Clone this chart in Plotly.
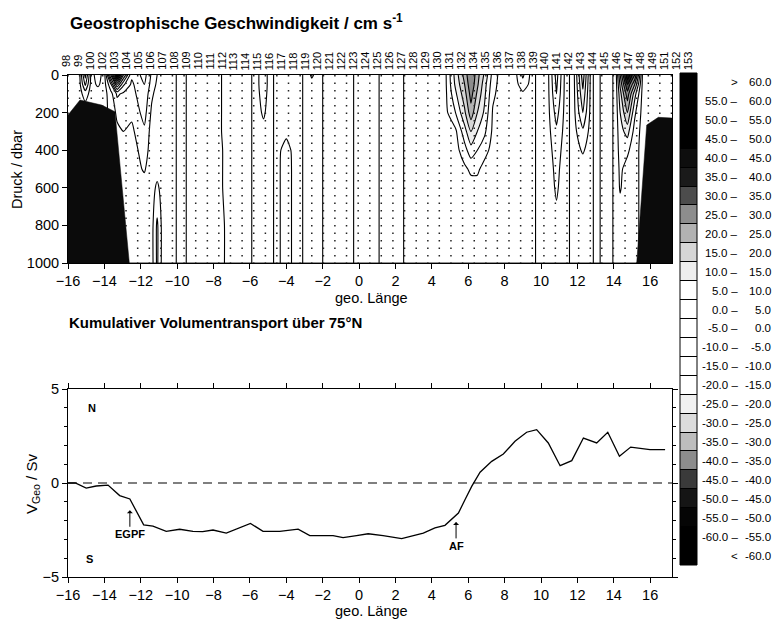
import numpy as np
import plotly.graph_objects as go

W, H = 775, 623
FONT = "Liberation Sans, Arial, Helvetica, sans-serif"

# ---------------------------------------------------------------- data
stations = [98, 99, 100, 102, 103, 104, 105, 106, 107, 108, 109, 110, 111, 112,
            113, 114, 115, 116, 117, 118, 119, 120, 121, 122, 123, 124, 125, 126,
            127, 128, 129, 130, 131, 132, 134, 135, 136, 137, 138, 139, 140, 141,
            142, 143, 144, 145, 146, 147, 148, 149, 151, 152, 153]

station_lon = [-16.0, -15.36, -14.72, -14.09, -13.45, -12.81, -12.17, -11.53, -10.9,
               -10.26, -9.62, -8.98, -8.34, -7.71, -7.07, -6.43, -5.79, -5.15, -4.52,
               -3.88, -3.24, -2.6, -1.96, -1.33, -0.69, -0.05, 0.59, 1.22, 1.86, 2.5,
               3.14, 3.78, 4.41, 5.05, 5.69, 6.33, 6.97, 7.6, 8.24, 8.88, 9.52, 10.16,
               10.79, 11.43, 12.07, 12.71, 13.34, 13.98, 14.62, 15.26, 15.9, 16.53, 17.17]

# pressure levels (dbar) of the velocity profiles
depth_levels = [0, 50, 100, 200, 300, 400, 500, 600, 800, 1000]

# longitude of each velocity profile
grid_lon = [-16.0, -15.4, -15.05, -14.7, -14.35, -14.0, -13.65, -13.3, -12.95, -12.5,
            -11.8, -11.4, -11.1, -10.8, -10.3, -9.8, -9.2, -8.4, -7.8, -7.2,
            -6.6, -6.1, -5.7, -5.25, -4.9, -4.5, -4.0, -3.5, -3.3, -2.9,
            -2.6, -2.2, -1.8, -1.0, -0.5, -0.1, 0.5, 0.9, 1.3, 1.9,
            2.3, 2.6, 3.5, 4.7, 5.3, 5.8, 6.15, 6.5, 6.9, 7.35,
            7.8, 8.5, 9.0, 9.5, 9.9, 10.35, 10.85, 11.35, 11.78, 12.3,
            12.75, 13.0, 13.5, 13.8, 14.1, 14.35, 14.75, 15.15, 15.6, 16.4, 17.2]

# geostrophic velocity (cm/s), one profile per longitude, values at depth_levels
velocity_profiles = [
    [3, 3, 2, 2, 2, 2, 2, 2, 2, 2],
    [3, 3, 2, 2, 2, 2, 2, 2, 2, 2],
    [-17, -11, -2, 3, 2, 2, 2, 2, 2, 2],
    [3, 3, 2, 2, 2, 2, 2, 2, 2, 2],
    [8, 6, 2, 2, 2, 2, 2, 2, 2, 2],
    [2, 2, 2, 2, 2, 2, 2, 2, 2, 2],
    [-25, -9, -3, -2, -2, -2, -2, -2, -2, -2],
    [-55, -30, -11, -6, -4, -3, -3, -3, -3, -3],
    [-30, -16, -9, -7, -5, -4, -3, -3, -3, -3],
    [-11, -9, -8, -6, -4, -3, -3, -3, -3, -3],
    [-17, -15, -14, -12, -9, -7, -5.5, -3, -2, -2],
    [-9, -8, -6, -4, -3, -3, -2, -2, -2, -2],
    [-5, -4, -3, -2, -2, -2, -2, 1, 6, 6],
    [-3, -3, -2, -2, -2, -2, -2, -2, -2, -2],
    [-2, -2, -2, -2, -2, -2, -2, -2, -2, -2],
    [2, 2, 2, 2, 2, 2, 2, 2, 2, 2],
    [-2, -2, -2, -2, -2, -2, -2, -2, -2, -2],
    [-3, -3, -3, -3, -3, -3, -3, -3, -3, -3],
    [-2, -2, -2, -2, -2, -2, -2, -2, -2, -2],
    [3, 3, 3, 3, 3, 2, 2, 2, 1, 1],
    [3, 3, 3, 3, 3, 3, 3, 3, 3, 3],
    [2, 2, 2, 2, 2, 2, 2, 2, 2, 2],
    [-2, -2, -2, -2, -2, -2, -2, -2, -2, -2],
    [-9, -9, -8, -6, -3, -2, -2, -2, -2, -2],
    [-2, -2, -2, -2, -2, -2, -2, -2, -2, -2],
    [2, 2, 2, 2, 2, 2, 2, 2, 2, 2],
    [3, 3, 3, 3, 2, -3, -4, -4, -4, -4],
    [3, 3, 3, 3, 3, 3, 3, 3, 3, 3],
    [2, 2, 2, 2, 2, 2, 2, 2, 2, 2],
    [-2, -2, -2, -2, -2, -2, -2, -2, -2, -2],
    [-6, -3, -2, -2, -2, -2, -2, -2, -2, -2],
    [-2, -2, -2, -2, -2, -2, -2, -2, -2, -2],
    [2, 2, 2, 2, 2, 2, 2, 2, 2, 2],
    [3, 3, 3, 3, 3, 3, 3, 3, 3, 3],
    [2, 2, 2, 2, 2, 2, 2, 2, 2, 2],
    [-2, -2, -2, -2, -2, -2, -2, -2, -2, -2],
    [-3, -3, -3, -3, -3, -3, -3, -3, -3, -3],
    [-2, -2, -2, -2, -2, -2, -2, -2, -2, -2],
    [2, 2, 2, 2, 2, 2, 2, 2, 2, 2],
    [3, 3, 3, 3, 3, 3, 3, 3, 3, 3],
    [2, 2, 2, 2, 2, 2, 2, 2, 2, 2],
    [-2, -2, -2, -2, -2, -2, -2, -2, -2, -2],
    [-3, -3, -3, -3, -3, -3, -3, -3, -3, -3],
    [-2, -2, -2, -2, -2, -2, -2, -2, -2, -2],
    [12, 11, 9, 5, -1, -2, -2, -2, -2, -2],
    [22, 20, 18, 14, 8, 3, -1, -2, -2, -2],
    [30, 29, 27, 23, 15, 8, 1, -2, -2, -2],
    [22, 21, 19, 15, 10, 5, 1, -2, -2, -2],
    [14, 12, 11, 9, 6, 2, -2, -2, -2, -2],
    [3, 2, 1, -0.5, -1, -2, -2, -2, -2, -2],
    [-2, -2, -2, -2, -2, -2, -2, -2, -2, -2],
    [-3, -3, -3, -3, -3, -3, -3, -3, -3, -3],
    [6, 3, -1, -2, -2, -2, -2, -2, -2, -2],
    [-2, -2, -2, -2, -2, -2, -2, -2, -2, -2],
    [2, 2, 2, 2, 2, 2, 2, 2, 2, 2],
    [2, 2, 2, 2, 2, 2, 2, 2, 2, 2],
    [-12, -11, -10, -7, -4, -2, -1, -0.5, 1, 2],
    [2, 2, 2, 2, 2, 2, 2, 2, 2, 2],
    [-2, -2, -2, -2, -2, -2, -2, -2, -2, -2],
    [18, 16, 14, 10, 4, 0.5, -2, -2, -2, -2],
    [-2, -2, -2, -2, -2, -2, -2, -2, -2, -2],
    [2, 2, 2, 2, 2, 2, 2, 2, 2, 2],
    [-2, -2, -2, -2, -2, -2, -2, -2, -2, -2],
    [-2, -2, -2, -2, -2, -2, -2, -2, -2, -2],
    [2, 2, 2, 2, 2, 2, 2, 2, 2, 2],
    [20, 16, 13, 10, 8, 7, 6, 5.5, 2, 2],
    [45, 35, 28, 20, 12, 6, 3, 2, 2, 2],
    [30, 20, 12, 6, 3, 2, 2, 2, 2, 2],
    [-2, -2, -2, -2, -2, -2, -2, -2, -2, -2],
    [-2, -2, -2, -2, -2, -2, -2, -2, -2, -2],
    [-2, -2, -2, -2, -2, -2, -2, -2, -2, -2],
]

# sea floor along the section (shelf slopes at both ends)
bottom_lon = [-16.0, -15.34, -14.15, -13.42, -12.63, 15.26, 15.81, 16.45, 17.2]
bottom_depth = [213, 133, 160, 195, 1000, 1000, 266, 225, 229]

# cumulative geostrophic volume transport (Sv)
transport_lon = [-16.0, -15.6, -15.0, -14.45, -13.8, -13.16, -12.6, -11.84, -11.33, -10.6,
                 -9.86, -9.13, -8.6, -8.03, -7.3, -6.56, -5.97, -5.28, -4.36, -3.35,
                 -2.71, -1.43, -0.88, -0.14, 0.5, 1.32, 2.34, 3.53, 4.17, 4.72,
                 5.46, 5.82, 6.19, 6.65, 7.29, 7.93, 8.57, 9.21, 9.76, 10.4,
                 11.05, 11.69, 12.33, 13.06, 13.67, 14.31, 14.93, 15.99, 16.82]
transport_sv = [0.0, 0.0, -0.27, -0.16, -0.11, -0.67, -0.85, -2.23, -2.29, -2.57,
                -2.46, -2.57, -2.59, -2.5, -2.66, -2.36, -2.15, -2.57, -2.57, -2.45,
                -2.8, -2.8, -2.91, -2.8, -2.7, -2.8, -2.96, -2.66, -2.39, -2.25,
                -1.6, -0.89, -0.18, 0.57, 1.15, 1.54, 2.22, 2.7, 2.84, 2.13,
                0.92, 1.19, 2.39, 2.13, 2.7, 1.42, 1.91, 1.77, 1.77]

# front markers: name, longitude, transport at arrow tip
front_names = ["EGPF", "AF"]
front_lon = [-12.6, 5.33]
front_sv = [-1.45, -2.07]

# velocity classes (cm/s) and their fill shades, lowest class first
class_edges = list(range(-60, 65, 5))
class_fills = ["#000000", "#000000", "#050505", "#151515", "#3a3a3a", "#8c8c8c",
               "#bdbdbd", "#dcdcdc", "#f1f1f1", "#ffffff", "#ffffff", "#ffffff",
               "#ffffff", "#ffffff", "#ffffff", "#eeeeee", "#d6d6d6", "#b2b2b2",
               "#8d8d8d", "#4c4c4c", "#1a1a1a", "#0e0e0e", "#000000", "#000000",
               "#000000", "#000000"]


# ---------------------------------------------------------------- helpers
def px_x(p):
    return p / W


def px_y(p):
    return 1 - p / H


n_cls = len(class_fills)
colorscale = []
for k, c in enumerate(class_fills):
    lo = max(0.0, (k - 0.5) / (n_cls - 1))
    hi = min(1.0, (k + 0.5) / (n_cls - 1))
    colorscale.append([lo, c])
    colorscale.append([hi, c])

z = np.array(velocity_profiles, dtype=float).T

fig = go.Figure()

# velocity section
fig.add_trace(go.Contour(
    x=grid_lon, y=depth_levels, z=z,
    xaxis="x", yaxis="y",
    colorscale=colorscale, showscale=False,
    contours=dict(start=class_edges[0], end=class_edges[-1], size=5, coloring="fill"),
    line=dict(color="black", width=1.1, smoothing=0.6),
    hoverinfo="skip",
))

# station verticals (dotted down to the sea floor)
st_bottom = np.interp(station_lon, bottom_lon, bottom_depth)
sx, sy = [], []
for lon, b in zip(station_lon, st_bottom):
    sx += [lon, lon, None]
    sy += [0, b, None]
fig.add_trace(go.Scatter(
    x=sx, y=sy, xaxis="x", yaxis="y", mode="lines",
    line=dict(color="#222222", width=1.5, dash="1.5px,6px"),
    hoverinfo="skip", showlegend=False,
))

# sea floor
fig.add_trace(go.Scatter(
    x=bottom_lon + [bottom_lon[-1], bottom_lon[0]],
    y=bottom_depth + [1000, 1000],
    xaxis="x", yaxis="y", mode="lines", fill="toself",
    fillcolor="#0b0b0b", line=dict(color="#0b0b0b", width=0.5),
    hoverinfo="skip", showlegend=False,
))

# cumulative transport
fig.add_trace(go.Scatter(
    x=transport_lon, y=transport_sv, xaxis="x2", yaxis="y2", mode="lines",
    line=dict(color="black", width=1.3), hoverinfo="skip", showlegend=False,
))

# class key: one cell per velocity class, thin black separators
fig.add_trace(go.Heatmap(
    z=[[k] for k in range(n_cls)], x=[0], y=[k + 0.5 for k in range(n_cls)],
    xaxis="x3", yaxis="y3", zmin=0, zmax=n_cls - 1,
    colorscale=colorscale, showscale=False, ygap=1, hoverinfo="skip",
))

axis_common = dict(
    showgrid=False, zeroline=False, linecolor="black", linewidth=1,
    ticks="outside", ticklen=5, tickwidth=1, tickcolor="black", automargin=False,
    tickfont=dict(family=FONT, size=14.5, color="black"),
)

dom_x = [px_x(68), px_x(672)]
fig.update_layout(
    width=W, height=H,
    margin=dict(l=0, r=0, t=0, b=0, pad=0),
    paper_bgcolor="white", plot_bgcolor="white",
    showlegend=False,
    font=dict(family=FONT, color="black"),
    xaxis=dict(domain=dom_x, anchor="y", range=[-16, 17.2],
               tickvals=list(range(-16, 17, 2)), mirror=True, **axis_common),
    yaxis=dict(domain=[px_y(263), px_y(75)], anchor="x", range=[1000, 0],
               tickvals=list(range(0, 1001, 200)), mirror=True, **axis_common),
    xaxis2=dict(domain=dom_x, anchor="y2", range=[-16, 17.2],
                tickvals=list(range(-16, 17, 2)), mirror="ticks", **axis_common),
    yaxis2=dict(domain=[px_y(577), px_y(389)], anchor="x2", range=[-5, 5],
                tickvals=[-5, 0, 5], mirror="ticks",
                minor=dict(dtick=1, ticks="outside", ticklen=3, tickcolor="black"),
                **axis_common),
    xaxis3=dict(domain=[px_x(680), px_x(697)], anchor="y3", range=[-0.5, 0.5],
                visible=False, fixedrange=True, automargin=False),
    yaxis3=dict(domain=[px_y(565), px_y(73)], anchor="x3", range=[0, n_cls],
                visible=False, fixedrange=True, automargin=False),
)

# black backing (shows through the cell gaps) and outline of the class key
fig.add_shape(type="rect", xref="x3 domain", yref="y3 domain", x0=0, x1=1, y0=0, y1=1,
              fillcolor="black", line=dict(width=0), layer="below")
fig.add_shape(type="rect", xref="x3 domain", yref="y3 domain", x0=0, x1=1, y0=0, y1=1,
              fillcolor="rgba(0,0,0,0)", line=dict(color="black", width=1), layer="above")

# zero transport reference
fig.add_shape(type="line", xref="x2 domain", yref="y2", x0=0, x1=1, y0=0, y1=0,
              line=dict(color="black", width=1.2, dash="9px,6px"))

ann = []


def text(x, y, s, size=14.5, bold=False, xanchor="center", yanchor="middle",
         angle=0, xref="paper", yref="paper"):
    ann.append(dict(
        x=x, y=y, xref=xref, yref=yref, text=f"<b>{s}</b>" if bold else s,
        showarrow=False, xanchor=xanchor, yanchor=yanchor, textangle=angle,
        font=dict(family=FONT, size=size, color="black"),
    ))


text(px_x(68), px_y(22), "Geostrophische Geschwindigkeit / cm s<sup>-1</sup>",
     size=17, bold=True, xanchor="left")
text(px_x(67), px_y(322), "Kumulativer Volumentransport über 75°N",
     size=15, bold=True, xanchor="left")
text(px_x(371), px_y(298), "geo. Länge", size=14.5)
text(px_x(371), px_y(611), "geo. Länge", size=14.5)
text(px_x(17), px_y(170), "Druck / dbar", size=14.5, angle=-90)
text(px_x(32), px_y(484), "V<sub>Geo</sub> / Sv", size=15, angle=-90)

# station numbers along the top of the section
n_st = len(stations)
for i, s in enumerate(stations):
    xp = 66 + i * (688 - 66) / (n_st - 1)
    text(px_x(xp), px_y(61), str(s), size=11, angle=-90)

# direction labels
text(-14.7, 4.0, "N", size=11, bold=True, xref="x2", yref="y2")
text(-14.8, -4.05, "S", size=11, bold=True, xref="x2", yref="y2")

# fronts
for name, lon, sv in zip(front_names, front_lon, front_sv):
    ann.append(dict(
        x=lon, y=sv, xref="x2", yref="y2", text=f"<b>{name}</b>",
        showarrow=True, arrowhead=1, arrowsize=1, arrowwidth=1,
        arrowcolor="black", ax=0, ay=24, standoff=0,
        font=dict(family=FONT, size=11, color="black"),
    ))

# class key labels
for k in range(n_cls):
    if k == 0:
        left, right = "<", f"{class_edges[0]:.1f}"
    elif k == n_cls - 1:
        left, right = ">", f"{class_edges[-1]:.1f}"
    else:
        left, right = f"{class_edges[k - 1]:.1f} –", f"{class_edges[k]:.1f}"
    text(px_x(740), k + 0.5, left, size=11.5, xanchor="right", yref="y3")
    text(px_x(773), k + 0.5, right, size=11.5, xanchor="right", yref="y3")

fig.update_layout(annotations=ann)

fig.write_html("out.html")
